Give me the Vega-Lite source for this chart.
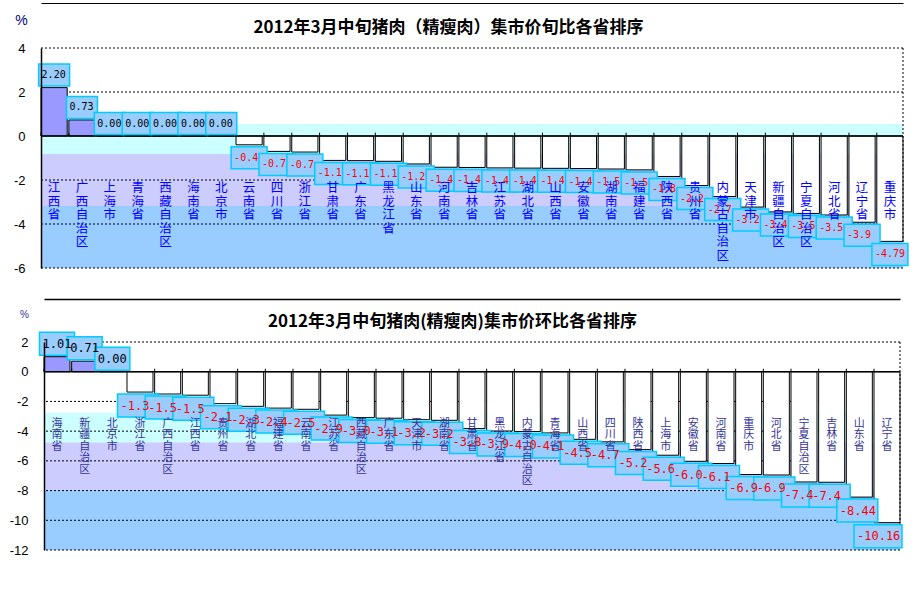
{
  "$schema": "https://vega.github.io/schema/vega-lite/v6.json",
  "background": "white",
  "padding": {"left": 9, "top": 3, "right": 0, "bottom": 0},
  "autosize": {"type": "pad"},
  "spacing": 74,
  "bounds": "flush",
  "center": true,
  "resolve": {"scale": {"x": "independent", "y": "independent", "color": "independent"}},
  "config": {
    "view": {"stroke": null},
    "locale": {"number": {"decimal": ".", "thousands": ",", "grouping": [3], "currency": ["$", ""], "minus": "-"}}
  },
  "datasets": {
    "jun": [
      {"name": "江西省", "v": 2.20},
      {"name": "广西自治区", "v": 0.73},
      {"name": "上海市", "v": 0.00},
      {"name": "青海省", "v": 0.00},
      {"name": "西藏自治区", "v": 0.00},
      {"name": "海南省", "v": 0.00},
      {"name": "北京市", "v": 0.00},
      {"name": "云南省", "v": -0.40},
      {"name": "四川省", "v": -0.70},
      {"name": "浙江省", "v": -0.73},
      {"name": "甘肃省", "v": -1.11},
      {"name": "广东省", "v": -1.12},
      {"name": "黑龙江省", "v": -1.15},
      {"name": "山东省", "v": -1.27},
      {"name": "河南省", "v": -1.42},
      {"name": "吉林省", "v": -1.43},
      {"name": "江苏省", "v": -1.45},
      {"name": "湖北省", "v": -1.46},
      {"name": "山西省", "v": -1.47},
      {"name": "安徽省", "v": -1.48},
      {"name": "湖南省", "v": -1.50},
      {"name": "福建省", "v": -1.54},
      {"name": "陕西省", "v": -1.84},
      {"name": "贵州省", "v": -2.25},
      {"name": "内蒙古自治区", "v": -2.75},
      {"name": "天津市", "v": -3.23},
      {"name": "新疆自治区", "v": -3.45},
      {"name": "宁夏自治区", "v": -3.52},
      {"name": "河北省", "v": -3.59},
      {"name": "辽宁省", "v": -3.92},
      {"name": "重庆市", "v": -4.79}
    ],
    "huan": [
      {"name": "海南省", "v": 1.01},
      {"name": "新疆自治区", "v": 0.71},
      {"name": "北京市", "v": 0.00},
      {"name": "浙江省", "v": -1.37},
      {"name": "广西自治区", "v": -1.50},
      {"name": "江西省", "v": -1.58},
      {"name": "贵州省", "v": -2.15},
      {"name": "湖北省", "v": -2.33},
      {"name": "福建省", "v": -2.45},
      {"name": "云南省", "v": -2.53},
      {"name": "江苏省", "v": -2.92},
      {"name": "西藏自治区", "v": -3.09},
      {"name": "广东省", "v": -3.13},
      {"name": "天津市", "v": -3.23},
      {"name": "湖南省", "v": -3.27},
      {"name": "甘肃省", "v": -3.83},
      {"name": "黑龙江省", "v": -3.99},
      {"name": "内蒙古自治区", "v": -4.03},
      {"name": "青海省", "v": -4.12},
      {"name": "山西省", "v": -4.55},
      {"name": "四川省", "v": -4.72},
      {"name": "陕西省", "v": -5.24},
      {"name": "上海市", "v": -5.62},
      {"name": "安徽省", "v": -6.03},
      {"name": "河南省", "v": -6.18},
      {"name": "重庆市", "v": -6.92},
      {"name": "河北省", "v": -6.95},
      {"name": "宁夏自治区", "v": -7.42},
      {"name": "吉林省", "v": -7.44},
      {"name": "山东省", "v": -8.44},
      {"name": "辽宁省", "v": -10.16}
    ],
    "bandsTop": [
      {"zone": "c1", "hi": 0.55, "lo": -0.82},
      {"zone": "c2", "hi": -0.82, "lo": -3.18},
      {"zone": "c3", "hi": -3.18, "lo": -6}
    ],
    "bandsBot": [
      {"zone": "c1", "hi": -2.76, "lo": -4.77},
      {"zone": "c2", "hi": -4.77, "lo": -8.0},
      {"zone": "c3", "hi": -8.0, "lo": -12}
    ]
  },
  "vconcat": [
    {
      "width": 862,
      "height": 220,
      "layer": [
        {
          "data": {"name": "bandsTop"},
          "mark": {"type": "rect"},
          "encoding": {
            "y": {"field": "hi", "type": "quantitative", "title": "%",
              "scale": {"domain": [-6, 4], "nice": false, "zero": false},
              "axis": {"values": [-6, -4, -2, 0, 2, 4], "format": "d", "tickCount": 20, "labelOverlap": false, "labelFlush": false, "grid": false, "domain": true, "domainColor": "black", "domainWidth": 1.5, "ticks": false, "labelPadding": 16, "labelFont": "Liberation Sans", "labelFontSize": 13, "labelColor": "black", "titleAngle": 0, "titleX": -20, "titleY": -28, "titleAlign": "center", "titleBaseline": "middle", "titleColor": "#000080", "titleFont": "Liberation Sans", "titleFontSize": 14, "titleFontWeight": "normal", "zindex": 1}},
            "y2": {"field": "lo"},
            "color": {"field": "zone", "type": "nominal", "scale": {"domain": ["c1", "c2", "c3"], "range": ["#CCFFFF", "#CCCCFF", "#99CCFF"]}, "legend": null}
          }
        },
        {
          "data": {"values": [{"g": 4}, {"g": 2}, {"g": -2}, {"g": -4}, {"g": -6}]},
          "mark": {"type": "rule", "color": "black", "strokeDash": [2, 2], "strokeWidth": 1},
          "encoding": {"y": {"field": "g", "type": "quantitative"}}
        },
        {
          "data": {"name": "jun"},
          "mark": {"type": "bar", "stroke": "black", "strokeWidth": 1},
          "encoding": {
            "x": {"field": "name", "type": "nominal", "sort": null, "title": "2012年3月中旬猪肉（精瘦肉）集市价旬比各省排序",
              "scale": {"domain": ["江西省","广西自治区","上海市","青海省","西藏自治区","海南省","北京市","云南省","四川省","浙江省","甘肃省","广东省","黑龙江省","山东省","河南省","吉林省","江苏省","湖北省","山西省","安徽省","湖南省","福建省","陕西省","贵州省","内蒙古自治区","天津市","新疆自治区","宁夏自治区","河北省","辽宁省","重庆市"], "paddingInner": 0.06, "paddingOuter": 0},
              "axis": {"orient": "top", "offset": 45, "domain": true, "domainColor": "black", "domainWidth": 1, "labels": false, "ticks": false, "grid": false, "titleX": 407, "titleY": 29, "titleAlign": "center", "titleAnchor": "start", "titleBaseline": "alphabetic", "titleFont": "Noto Sans CJK SC", "titleFontSize": 17, "titleFontWeight": "bold", "titleColor": "black", "zindex": 1}},
            "y": {"field": "v", "type": "quantitative"},
            "color": {"condition": {"test": "datum.v > 0", "value": "#9999FF"}, "value": "white"}
          }
        },
        {
          "data": {"name": "jun"},
          "transform": [{"filter": "datum.name === '重庆市'"}],
          "mark": {"type": "rule", "color": "black", "strokeDash": [2, 2], "strokeWidth": 1},
          "encoding": {
            "x": {"field": "name", "type": "nominal", "sort": null, "bandPosition": 1},
            "y": {"datum": 4},
            "y2": {"datum": -6}
          }
        },
        {
          "data": {"values": [{}]},
          "mark": {"type": "rule", "color": "black", "strokeWidth": 1.5},
          "encoding": {"y": {"datum": 0}}
        },
        {
          "data": {"name": "jun"},
          "mark": {"type": "rule", "color": "black", "strokeWidth": 1},
          "encoding": {
            "x": {"field": "name", "type": "nominal", "sort": null, "bandPosition": 0},
            "y": {"datum": 0},
            "y2": {"datum": 0.15}
          }
        },
        {
          "data": {"name": "jun"},
          "transform": [{"filter": "datum.v >= 0"}],
          "mark": {"type": "point", "shape": "M-1,-0.71H1V0.71H-1Z", "size": 961, "filled": true, "fill": "#99CCFF", "stroke": "#00CCFF", "strokeWidth": 1.5, "opacity": 1, "yOffset": -12.5},
          "encoding": {
            "x": {"field": "name", "type": "nominal", "sort": null},
            "y": {"field": "v", "type": "quantitative"}
          }
        },
        {
          "data": {"name": "jun"},
          "transform": [{"filter": "datum.v < 0"}],
          "mark": {"type": "point", "shape": "M-1,-0.611H1V0.611H-1Z", "size": 1296, "filled": true, "fill": "#99CCFF", "stroke": "#00CCFF", "strokeWidth": 1.5, "opacity": 1, "yOffset": 13},
          "encoding": {
            "x": {"field": "name", "type": "nominal", "sort": null},
            "y": {"field": "v", "type": "quantitative"}
          }
        },
        {
          "data": {"name": "jun"},
          "transform": [{"calculate": "split(datum.name, '')", "as": "chars"}],
          "mark": {"type": "text", "align": "center", "baseline": "top", "font": "Noto Sans CJK SC", "fontSize": 12.5, "lineHeight": 13.5, "color": "#0000FF"},
          "encoding": {
            "x": {"field": "name", "type": "nominal", "sort": null},
            "y": {"datum": -2.1},
            "text": {"field": "chars", "type": "nominal"}
          }
        },
        {
          "data": {"name": "jun"},
          "transform": [{"filter": "datum.v >= 0"}],
          "mark": {"type": "text", "align": "left", "baseline": "middle", "dx": -12.5, "dy": -12.5, "font": "DejaVu Sans Mono", "fontSize": 10, "color": "black"},
          "encoding": {
            "x": {"field": "name", "type": "nominal", "sort": null},
            "y": {"field": "v", "type": "quantitative"},
            "text": {"field": "v", "type": "quantitative", "format": ".2f"}
          }
        },
        {
          "data": {"name": "jun"},
          "transform": [{"filter": "datum.v < 0 && datum.name !== '重庆市'"}],
          "mark": {"type": "text", "align": "left", "baseline": "middle", "dx": -15, "dy": 13, "font": "DejaVu Sans Mono", "fontSize": 10, "color": "red", "limit": 25, "ellipsis": "\u200b"},
          "encoding": {
            "x": {"field": "name", "type": "nominal", "sort": null},
            "y": {"field": "v", "type": "quantitative"},
            "text": {"field": "v", "type": "quantitative", "format": ".2f"}
          }
        },
        {
          "data": {"name": "jun"},
          "transform": [{"filter": "datum.name === '重庆市'"}],
          "mark": {"type": "text", "align": "left", "baseline": "middle", "dx": -15, "dy": 13, "font": "DejaVu Sans Mono", "fontSize": 10, "color": "red"},
          "encoding": {
            "x": {"field": "name", "type": "nominal", "sort": null},
            "y": {"field": "v", "type": "quantitative"},
            "text": {"field": "v", "type": "quantitative", "format": ".2f"}
          }
        }
      ]
    },
    {
      "width": 856,
      "height": 208,
      "layer": [
        {
          "data": {"name": "bandsBot"},
          "mark": {"type": "rect"},
          "encoding": {
            "y": {"field": "hi", "type": "quantitative", "title": "%",
              "scale": {"domain": [-12, 2], "nice": false, "zero": false},
              "axis": {"values": [-12, -10, -8, -6, -4, -2, 0, 2], "format": "d", "tickCount": 20, "labelOverlap": false, "labelFlush": false, "grid": false, "domain": true, "domainColor": "black", "domainWidth": 1.5, "ticks": false, "labelPadding": 16, "labelFont": "Liberation Sans", "labelFontSize": 13, "labelColor": "black", "titleAngle": 0, "titleX": -20, "titleY": -28, "titleAlign": "center", "titleBaseline": "middle", "titleColor": "#333399", "titleFont": "Liberation Sans", "titleFontSize": 10, "titleFontWeight": "normal", "zindex": 1}},
            "y2": {"field": "lo"},
            "color": {"field": "zone", "type": "nominal", "scale": {"domain": ["c1", "c2", "c3"], "range": ["#CCFFFF", "#CCCCFF", "#99CCFF"]}, "legend": null}
          }
        },
        {
          "data": {"values": [{"g": 2}, {"g": -2}, {"g": -4}, {"g": -6}, {"g": -8}, {"g": -10}, {"g": -12}]},
          "mark": {"type": "rule", "color": "black", "strokeDash": [2, 2], "strokeWidth": 1},
          "encoding": {"y": {"field": "g", "type": "quantitative"}}
        },
        {
          "data": {"name": "huan"},
          "mark": {"type": "bar", "stroke": "black", "strokeWidth": 1},
          "encoding": {
            "x": {"field": "name", "type": "nominal", "sort": null, "title": "2012年3月中旬猪肉(精瘦肉)集市价环比各省排序",
              "scale": {"domain": ["海南省","新疆自治区","北京市","浙江省","广西自治区","江西省","贵州省","湖北省","福建省","云南省","江苏省","西藏自治区","广东省","天津市","湖南省","甘肃省","黑龙江省","内蒙古自治区","青海省","山西省","四川省","陕西省","上海市","安徽省","河南省","重庆市","河北省","宁夏自治区","吉林省","山东省","辽宁省"], "paddingInner": 0.06, "paddingOuter": 0},
              "axis": {"orient": "top", "offset": 43, "domain": true, "domainColor": "black", "domainWidth": 1.5, "labels": false, "ticks": false, "grid": false, "titleX": 408, "titleY": 27, "titleAlign": "center", "titleAnchor": "start", "titleBaseline": "alphabetic", "titleFont": "Noto Sans CJK SC", "titleFontSize": 17, "titleFontWeight": "bold", "titleColor": "black", "zindex": 1}},
            "y": {"field": "v", "type": "quantitative"},
            "color": {"condition": {"test": "datum.v > 0", "value": "#9999FF"}, "value": "white"}
          }
        },
        {
          "data": {"name": "huan"},
          "transform": [{"filter": "datum.name === '辽宁省'"}],
          "mark": {"type": "rule", "color": "black", "strokeDash": [2, 2], "strokeWidth": 1},
          "encoding": {
            "x": {"field": "name", "type": "nominal", "sort": null, "bandPosition": 1},
            "y": {"datum": 2},
            "y2": {"datum": -12}
          }
        },
        {
          "data": {"values": [{}]},
          "mark": {"type": "rule", "color": "black", "strokeWidth": 1.5},
          "encoding": {"y": {"datum": 0}}
        },
        {
          "data": {"name": "huan"},
          "mark": {"type": "rule", "color": "black", "strokeWidth": 1},
          "encoding": {
            "x": {"field": "name", "type": "nominal", "sort": null, "bandPosition": 0},
            "y": {"datum": 0},
            "y2": {"datum": 0.2}
          }
        },
        {
          "data": {"name": "huan"},
          "transform": [{"filter": "datum.v >= 0"}],
          "mark": {"type": "point", "shape": "M-1,-0.657H1V0.657H-1Z", "size": 1225, "filled": true, "fill": "#99CCFF", "stroke": "#00CCFF", "strokeWidth": 1.5, "opacity": 1, "yOffset": -13},
          "encoding": {
            "x": {"field": "name", "type": "nominal", "sort": null},
            "y": {"field": "v", "type": "quantitative"}
          }
        },
        {
          "data": {"name": "huan"},
          "transform": [{"filter": "datum.v < 0 && datum.name !== '辽宁省'"}],
          "mark": {"type": "point", "shape": "M-1,-0.561H1V0.561H-1Z", "size": 1681, "filled": true, "fill": "#99CCFF", "stroke": "#00CCFF", "strokeWidth": 1.5, "opacity": 1, "yOffset": 13.5, "xOffset": -2},
          "encoding": {
            "x": {"field": "name", "type": "nominal", "sort": null},
            "y": {"field": "v", "type": "quantitative"}
          }
        },
        {
          "data": {"name": "huan"},
          "transform": [{"filter": "datum.name === '辽宁省'"}],
          "mark": {"type": "point", "shape": "M-1,-0.479H1V0.479H-1Z", "size": 2304, "filled": true, "fill": "#99CCFF", "stroke": "#00CCFF", "strokeWidth": 1.5, "opacity": 1, "yOffset": 13.5, "xOffset": -9},
          "encoding": {
            "x": {"field": "name", "type": "nominal", "sort": null},
            "y": {"field": "v", "type": "quantitative"}
          }
        },
        {
          "data": {"name": "huan"},
          "transform": [{"calculate": "split(datum.name, '')", "as": "chars"}],
          "mark": {"type": "text", "align": "center", "baseline": "top", "font": "Noto Sans CJK SC", "fontSize": 11, "lineHeight": 11.5, "color": "#333399"},
          "encoding": {
            "x": {"field": "name", "type": "nominal", "sort": null},
            "y": {"datum": -3.1},
            "text": {"field": "chars", "type": "nominal"}
          }
        },
        {
          "data": {"name": "huan"},
          "transform": [{"filter": "datum.v >= 0"}],
          "mark": {"type": "text", "align": "left", "baseline": "middle", "dx": -14.5, "dy": -13, "font": "DejaVu Sans Mono", "fontSize": 12, "color": "black"},
          "encoding": {
            "x": {"field": "name", "type": "nominal", "sort": null},
            "y": {"field": "v", "type": "quantitative"},
            "text": {"field": "v", "type": "quantitative", "format": ".2f"}
          }
        },
        {
          "data": {"name": "huan"},
          "transform": [{"filter": "datum.v < 0 && datum.name !== '辽宁省' && datum.name !== '山东省'"}],
          "mark": {"type": "text", "align": "left", "baseline": "middle", "dx": -19.5, "dy": 13.5, "font": "DejaVu Sans Mono", "fontSize": 12, "color": "red", "limit": 30, "ellipsis": "\u200b"},
          "encoding": {
            "x": {"field": "name", "type": "nominal", "sort": null},
            "y": {"field": "v", "type": "quantitative"},
            "text": {"field": "v", "type": "quantitative", "format": ".2f"}
          }
        },
        {
          "data": {"name": "huan"},
          "transform": [{"filter": "datum.name === '山东省'"}],
          "mark": {"type": "text", "align": "left", "baseline": "middle", "dx": -19.5, "dy": 13.5, "font": "DejaVu Sans Mono", "fontSize": 12, "color": "red"},
          "encoding": {
            "x": {"field": "name", "type": "nominal", "sort": null},
            "y": {"field": "v", "type": "quantitative"},
            "text": {"field": "v", "type": "quantitative", "format": ".2f"}
          }
        },
        {
          "data": {"name": "huan"},
          "transform": [{"filter": "datum.name === '辽宁省'"}],
          "mark": {"type": "text", "align": "left", "baseline": "middle", "dx": -30, "dy": 13.5, "font": "DejaVu Sans Mono", "fontSize": 12, "color": "red"},
          "encoding": {
            "x": {"field": "name", "type": "nominal", "sort": null},
            "y": {"field": "v", "type": "quantitative"},
            "text": {"field": "v", "type": "quantitative", "format": ".2f"}
          }
        }
      ]
    }
  ]
}
